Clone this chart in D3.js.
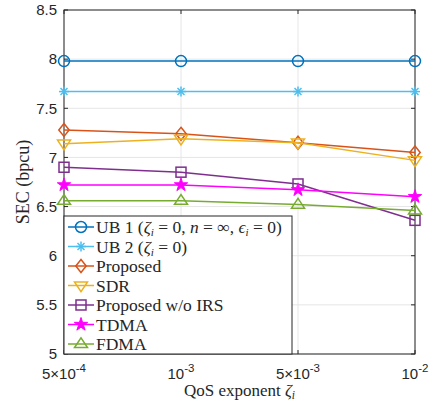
<!DOCTYPE html>
<html>
<head>
<meta charset="utf-8">
<script src="https://cdn.jsdelivr.net/npm/d3@7"></script>
<style>
  body { margin: 0; background: #fff; }
  text { fill: #262626; }
</style>
</head>
<body>
<svg id="chart" width="440" height="402"></svg>
<script>
// categories on the x axis (equally spaced in the original figure)
const categories = ['5e-4', '1e-3', '5e-3', '1e-2'];
const yTicks = [5, 5.5, 6, 6.5, 7, 7.5, 8, 8.5];

const ub1 = [7.98, 7.98, 7.98, 7.98];
const ub2 = [7.67, 7.67, 7.67, 7.67];
const proposed = [7.28, 7.24, 7.15, 7.05];
const sdr = [7.14, 7.19, 7.15, 6.97];
const noIrs = [6.90, 6.85, 6.73, 6.36];
const tdma = [6.72, 6.72, 6.67, 6.60];
const fdma = [6.56, 6.56, 6.52, 6.46];

const series = [
  {key: 'ub1', values: ub1, color: '#0072BD', marker: 'circle'},
  {key: 'ub2', values: ub2, color: '#4DBEEE', marker: 'asterisk'},
  {key: 'proposed', values: proposed, color: '#D95319', marker: 'diamond'},
  {key: 'sdr', values: sdr, color: '#EDB120', marker: 'triDown'},
  {key: 'noIrs', values: noIrs, color: '#7E2F8E', marker: 'square'},
  {key: 'tdma', values: tdma, color: '#FF00FF', marker: 'star'},
  {key: 'fdma', values: fdma, color: '#77AC30', marker: 'triUp'}
];

const margin = {top: 10, right: 25, bottom: 48, left: 64};
const width = 440, height = 402;
const svg = d3.select('#chart');

const x = d3.scalePoint().domain(categories).range([margin.left, width - margin.right]).padding(0);
const y = d3.scaleLinear().domain([5, 8.5]).range([height - margin.bottom, margin.top]);

const x0 = margin.left, x1 = width - margin.right;
const y0 = height - margin.bottom, y1 = margin.top;

// grid
const grid = svg.append('g').attr('stroke', '#e6e6e6').attr('stroke-width', 1);
grid.selectAll('line.gx').data(categories).join('line')
  .attr('x1', d => x(d)).attr('x2', d => x(d)).attr('y1', y0).attr('y2', y1);
grid.selectAll('line.gy').data(yTicks).join('line')
  .attr('x1', x0).attr('x2', x1).attr('y1', d => y(d)).attr('y2', d => y(d));

// axes frame + inward ticks
const axisG = svg.append('g').attr('stroke', '#262626').attr('stroke-width', 1).attr('fill', 'none');
axisG.append('rect').attr('x', x0).attr('y', y1).attr('width', x1 - x0).attr('height', y0 - y1);
yTicks.forEach(t => {
  axisG.append('line').attr('x1', x0).attr('x2', x0 + 4).attr('y1', y(t)).attr('y2', y(t));
  axisG.append('line').attr('x1', x1).attr('x2', x1 - 4).attr('y1', y(t)).attr('y2', y(t));
});
categories.forEach(c => {
  axisG.append('line').attr('x1', x(c)).attr('x2', x(c)).attr('y1', y0).attr('y2', y0 - 4);
  axisG.append('line').attr('x1', x(c)).attr('x2', x(c)).attr('y1', y1).attr('y2', y1 + 4);
});

// y tick labels
svg.append('g').selectAll('text').data(yTicks).join('text')
  .attr('x', x0 - 7).attr('y', d => y(d)).attr('dy', '0.35em')
  .attr('text-anchor', 'end')
  .style('font', '15px "Liberation Sans", Arial, sans-serif')
  .text(d => d);

// x tick labels: mantissa x 10^exp
const xLab = svg.append('g').style('font', '15px "Liberation Sans", Arial, sans-serif');
categories.forEach(c => {
  const [m, e] = c.split('e');
  const t = xLab.append('text').attr('x', x(c)).attr('y', y0 + 25).attr('text-anchor', 'middle');
  if (m !== '1') t.append('tspan').text(m + '\u00d7');
  t.append('tspan').text('10');
  t.append('tspan').attr('dy', -7).style('font-size', '11.5px').text(e);
});

// axis titles
svg.append('text')
  .attr('transform', `translate(29, ${(y0 + y1) / 2}) rotate(-90)`)
  .attr('text-anchor', 'middle')
  .style('font', '18px "Liberation Serif", "Times New Roman", serif')
  .text('SEC (bpcu)');

const xt = svg.append('text')
  .attr('x', (x0 + x1) / 2).attr('y', 396)
  .attr('text-anchor', 'middle')
  .style('font', '17px "Liberation Serif", "Times New Roman", serif');
xt.append('tspan').text('QoS exponent ');
xt.append('tspan').style('font-style', 'italic').text('\u03b6');
xt.append('tspan').attr('dy', 3).style('font-size', '11.5px').style('font-style', 'italic').text('i');

// markers
function drawMarker(g, type, color, cx, cy) {
  if (type === 'circle') {
    g.append('circle').attr('cx', cx).attr('cy', cy).attr('r', 5.5)
      .attr('fill', 'none').attr('stroke', color).attr('stroke-width', 1.5);
  } else if (type === 'asterisk') {
    const r = 5;
    [[r, 0], [0, r], [r * 0.7, r * 0.7], [r * 0.7, -r * 0.7]].forEach(([dx, dy]) => {
      g.append('line').attr('x1', cx - dx).attr('x2', cx + dx).attr('y1', cy - dy).attr('y2', cy + dy)
        .attr('stroke', color).attr('stroke-width', 1.5);
    });
  } else if (type === 'diamond') {
    const r = 6.5;
    g.append('path').attr('d', `M${cx},${cy - r}L${cx + r * 0.8},${cy}L${cx},${cy + r}L${cx - r * 0.8},${cy}Z`)
      .attr('fill', 'none').attr('stroke', color).attr('stroke-width', 1.5);
  } else if (type === 'square') {
    g.append('rect').attr('x', cx - 5).attr('y', cy - 5).attr('width', 10).attr('height', 10)
      .attr('fill', 'none').attr('stroke', color).attr('stroke-width', 1.5);
  } else if (type === 'triDown' || type === 'triUp') {
    const r = 6.5, s = type === 'triUp' ? -1 : 1;
    g.append('path').attr('d', `M${cx - r},${cy - s * r * 0.55}L${cx + r},${cy - s * r * 0.55}L${cx},${cy + s * r * 0.95}Z`)
      .attr('fill', 'none').attr('stroke', color).attr('stroke-width', 1.5);
  } else if (type === 'star') {
    g.append('path').attr('d', d3.symbol(d3.symbolStar, 55)())
      .attr('transform', `translate(${cx},${cy})`)
      .attr('fill', color).attr('stroke', color).attr('stroke-width', 1);
  }
}

const line = d3.line().x((d, i) => x(categories[i])).y(d => y(d));
const plot = svg.append('g');
series.forEach(s => {
  const g = plot.append('g');
  g.append('path').datum(s.values).attr('d', line)
    .attr('fill', 'none').attr('stroke', s.color).attr('stroke-width', 1.5);
  s.values.forEach((v, i) => drawMarker(g, s.marker, s.color, x(categories[i]), y(v)));
});

// legend
const legX = x0, legY = 216, legW = 228, legH = y0 - legY;
const leg = svg.append('g');
leg.append('rect').attr('x', legX).attr('y', legY).attr('width', legW).attr('height', legH)
  .attr('fill', '#fff').attr('stroke', '#262626').attr('stroke-width', 1);

const legendLabels = [
  [['UB 1 (', ''], ['\u03b6', 'it'], ['i', 'sub'], [' = 0, ', ''], ['n', 'it'], [' = \u221e, ', ''], ['\u03f5', 'it'], ['i', 'sub'], [' = 0)', '']],
  [['UB 2 (', ''], ['\u03b6', 'it'], ['i', 'sub'], [' = 0)', '']],
  [['Proposed', '']],
  [['SDR', '']],
  [['Proposed w/o IRS', '']],
  [['TDMA', '']],
  [['FDMA', '']]
];

series.forEach((s, i) => {
  const cy = legY + 11 + i * 19.5;
  const g = leg.append('g');
  g.append('line').attr('x1', legX + 4).attr('x2', legX + 30).attr('y1', cy).attr('y2', cy)
    .attr('stroke', s.color).attr('stroke-width', 1.5);
  drawMarker(g, s.marker, s.color, legX + 17, cy);
  const t = g.append('text').attr('x', legX + 32).attr('y', cy).attr('dy', '0.35em')
    .style('font', '17.5px "Liberation Serif", "Times New Roman", serif');
  let shifted = 0;
  legendLabels[i].forEach(([str, kind]) => {
    const sp = t.append('tspan').text(str);
    if (kind === 'it') sp.style('font-style', 'italic');
    if (kind === 'sub') { sp.style('font-size', '11px').style('font-style', 'italic').attr('dy', 3); shifted = 3; }
    else if (shifted) { sp.attr('dy', -shifted); shifted = 0; }
  });
});
</script>
</body>
</html>
